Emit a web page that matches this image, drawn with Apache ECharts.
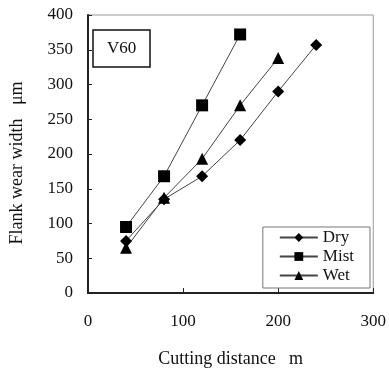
<!DOCTYPE html>
<html><head><meta charset="utf-8">
<script src="https://cdn.jsdelivr.net/npm/echarts@6/dist/echarts.min.js"></script>
<style>html,body{margin:0;padding:0;background:#fff}#c{width:389px;height:374px}</style>
</head><body><div id="c"></div>
<script>
var dryX = [40, 80, 120, 160, 200, 240];
var dryY = [75, 135, 168, 220, 290, 357];
var mistX = [40, 80, 120, 160];
var mistY = [95, 168, 270, 372];
var wetX = [40, 80, 120, 160, 200];
var wetY = [65, 137, 193, 270, 338];
var xTicks = [0, 100, 200, 300];
var yTicks = [0, 50, 100, 150, 200, 250, 300, 350, 400];

function pairs(xs, ys) { return xs.map(function (x, i) { return [x, ys[i]]; }); }
var font = 'Liberation Serif';
var chart = echarts.init(document.getElementById('c'));
var lineStyle = { color: '#444', width: 1 };
chart.setOption({
  animation: false,
  backgroundColor: '#fff',
  title: {
    text: 'V60', left: 93, top: 30, padding: [10, 14, 10, 14],
    borderColor: '#111', borderWidth: 1.5,
    textStyle: { fontFamily: font, fontSize: 17, fontWeight: 'normal', color: '#111' }
  },
  legend: {
    orient: 'vertical', right: 19, bottom: 86,
    backgroundColor: '#fff', borderColor: '#777', borderWidth: 1,
    padding: [2, 16, 4, 16], itemGap: 2, itemWidth: 38, itemHeight: 11,
    textStyle: { fontFamily: font, fontSize: 17, color: '#111' },
    data: ['Dry', 'Mist', 'Wet']
  },
  grid: { left: 83, right: 14, top: 15, bottom: 81, show: true, borderColor: '#999', borderWidth: 1 },
  xAxis: {
    type: 'value', min: 0, max: 300, interval: 100,
    name: 'Cutting distance   m', nameLocation: 'middle', nameGap: 57,
    nameTextStyle: { fontFamily: font, fontSize: 18, color: '#111' },
    axisLine: { show: true, lineStyle: { color: '#222', width: 2 } },
    axisTick: { show: true, inside: true, length: 5, lineStyle: { color: '#222' } },
    axisLabel: { fontFamily: font, fontSize: 17, color: '#111', margin: 20,
      formatter: function (v) { return xTicks.indexOf(v) >= 0 ? String(v) : ''; } },
    splitLine: { show: false }
  },
  yAxis: {
    type: 'value', min: 0, max: 400, interval: 50,
    name: 'Flank wear width   μm', nameLocation: 'middle', nameGap: 62,
    nameTextStyle: { fontFamily: font, fontSize: 18, color: '#111', padding: [0, 18, 0, 0] },
    axisLine: { show: true, lineStyle: { color: '#222', width: 2 } },
    axisTick: { show: true, inside: true, length: 4, lineStyle: { color: '#222' } },
    axisLabel: { fontFamily: font, fontSize: 17, color: '#111', margin: 15,
      formatter: function (v) { return yTicks.indexOf(v) >= 0 ? String(v) : ''; } },
    splitLine: { show: false }
  },
  series: [
    { name: 'Dry', type: 'line', data: pairs(dryX, dryY), symbol: 'diamond', symbolSize: 12,
      itemStyle: { color: '#000' }, lineStyle: lineStyle },
    { name: 'Mist', type: 'line', data: pairs(mistX, mistY), symbol: 'rect', symbolSize: 12,
      itemStyle: { color: '#000' }, lineStyle: lineStyle },
    { name: 'Wet', type: 'line', data: pairs(wetX, wetY), symbol: 'triangle', symbolSize: 12,
      itemStyle: { color: '#000' }, lineStyle: lineStyle }
  ]
});
</script></body></html>
